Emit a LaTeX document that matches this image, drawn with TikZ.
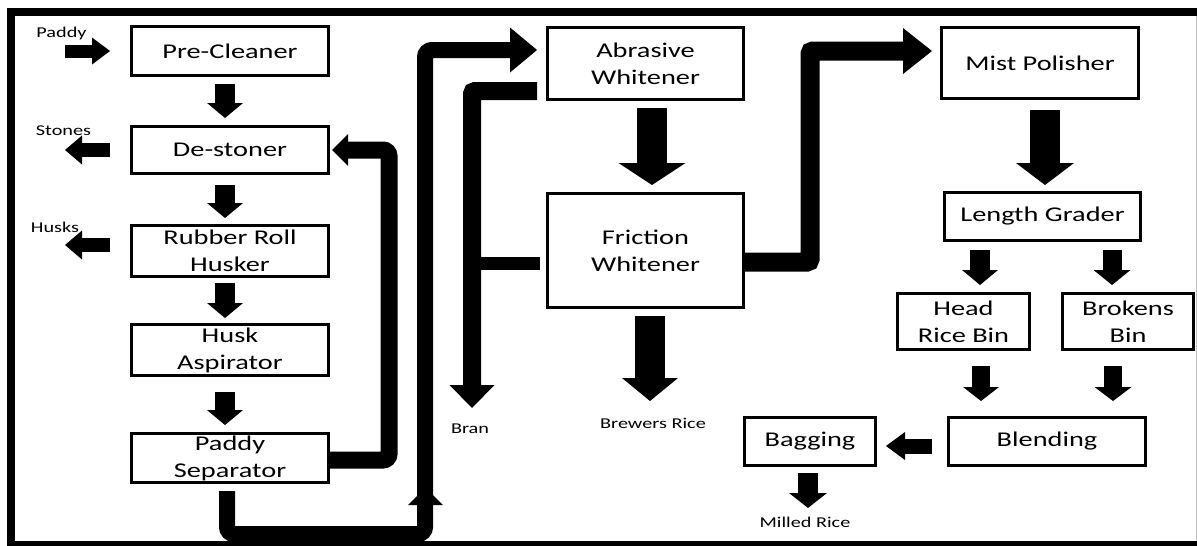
\documentclass[tikz,border=0pt]{standalone}
\usepackage{fontspec}
\usetikzlibrary{arrows.meta}
\newfontfamily\stretchsans[FakeStretch=1.35]{Carlito}
\newcommand{\boxfont}{\stretchsans\fontsize{21}{27}\selectfont}
\newcommand{\tagfont}{\stretchsans\fontsize{15}{18}\selectfont}

\tikzset{
  unit/.style n args={2}{draw, line width=3pt, inner sep=0pt, align=center,
    font=\boxfont, minimum width=#1-3pt, minimum height=#2-3pt},
  flow/.style n args={3}{line width=#1, line cap=butt,
    -{Triangle[length=#3, width=#2, line width=0pt]}},
  pipe/.style={line width=#1, line cap=butt},
  tag/.style={font=\tagfont, inner sep=0pt, anchor=base},
}

\begin{document}
\begin{tikzpicture}[x=1pt, y=-1pt]
\useasboundingbox (0,0) rectangle (1197,546);

% frame
\draw[line width=8pt, line cap=butt] (11,550) -- (11,12) -- (1200,12);
\draw[line width=7pt, line cap=butt] (7,544.5) -- (1200,544.5);
\draw[black!25, line width=1pt] (1196.5,16) -- (1196.5,541);

% process units
\node[unit={200pt}{52pt}] (pre)       at (230,51)    {Pre-Cleaner};
\node[unit={200pt}{50pt}] (destoner)  at (230,150)   {De-stoner};
\node[unit={200pt}{54pt}] (husker)    at (230,251)   {Rubber Roll\\Husker};
\node[unit={200pt}{54pt}] (aspirator) at (230,350)   {Husk\\Aspirator};
\node[unit={200pt}{52pt}] (separator) at (230,458)   {Paddy\\Separator};
\node[unit={199pt}{75pt}] (abrasive)  at (645.5,63.5)  {Abrasive\\Whitener};
\node[unit={199pt}{117pt}] (friction) at (645.5,250.5) {Friction\\Whitener};
\node[unit={200pt}{74pt}] (mist)      at (1040,63)   {Mist Polisher};
\node[unit={199pt}{51pt}] (grader)    at (1042.5,216.5) {Length Grader};
\node[unit={135pt}{59pt}] (headbin)   at (963.5,321.5) {Head\\Rice Bin};
\node[unit={134pt}{59pt}] (brokens)   at (1128,321.5) {Brokens\\Bin};
\node[unit={200pt}{51pt}] (blending)  at (1047,441.5) {Blending};
\node[unit={134pt}{51pt}] (bagging)   at (810,441.5)  {Bagging};

% stream labels
\node[tag] (lpaddy)   at (61.5,37)  {Paddy};
\node[tag] (lstones)  at (63.5,135) {Stones};
\node[tag] (lhusks)   at (55,232)   {Husks};
\node[tag] (lbran)    at (470,433)  {Bran};
\node[tag] (lbrewers) at (653,428)  {Brewers Rice};
\node[tag] (lmilled)  at (805,527)  {Milled Rice};

% free ends of inlet and outlet streams
\coordinate (paddysrc)  at (65,51);
\coordinate (stonesout) at (65,150);
\coordinate (husksout)  at (65,245);
\coordinate (bransink)  at (472,408);
\coordinate (brewsink)  at (650,401);
\coordinate (milledout) at (808,508);
\coordinate (retx)      at (389,0);
\coordinate (risex)     at (425,0);
\coordinate (lowy)      at (0,534);
\coordinate (upx)       at (810,0);

% husking line
\draw[flow={13pt}{27pt}{18pt}, shorten >=20pt] (paddysrc) -- (pre.west);
\draw[flow={20pt}{36pt}{15pt}, shorten <=7pt, shorten >=7pt]
  ([xshift=-5pt]pre.south) -- ([xshift=-5pt]pre.south |- destoner.north);
\draw[flow={20pt}{36pt}{15pt}, shorten <=10pt, shorten >=6pt]
  ([xshift=-5pt]destoner.south) -- ([xshift=-5pt]destoner.south |- husker.north);
\draw[flow={20pt}{36pt}{15pt}, shorten <=5pt, shorten >=5pt]
  ([xshift=-5pt]husker.south) -- ([xshift=-5pt]husker.south |- aspirator.north);
\draw[flow={20pt}{36pt}{15pt}, shorten <=15pt, shorten >=7pt]
  ([xshift=-5pt]aspirator.south) -- ([xshift=-5pt]aspirator.south |- separator.north);

% rejects
\draw[flow={14pt}{29pt}{17pt}, shorten <=20pt]
  (destoner.west) -- (stonesout |- destoner.west);
\draw[flow={14pt}{29pt}{17pt}, shorten <=20pt]
  (husker.west |- husksout) -- (husksout);

% unhusked paddy returned to the de-stoner
\draw[flow={17pt}{32pt}{16pt}, rounded corners=6pt, shorten >=2pt]
  ([yshift=-2pt]separator.east) -- ([yshift=-2pt]separator.east -| retx)
  -- (retx |- destoner.east) -- (destoner.east);

% brown rice to the abrasive whitener
\coordinate (abrin) at ([yshift=13.5pt]abrasive.west);
\draw[flow={16pt}{45pt}{27pt}, rounded corners=7pt, shorten <=7pt, shorten >=9pt]
  ([xshift=-3pt]separator.south) -- ([xshift=-3pt]separator.south |- lowy)
  -- (risex |- lowy) -- (risex |- abrin) -- (abrin);
\fill (408,505) -- (425.5,487.5) -- (443,505) -- cycle;

% bran from both whiteners
\coordinate (abrout) at ([yshift=-27.5pt]abrasive.west);
\draw[flow={18pt}{45pt}{23pt}, rounded corners=3pt, shorten <=9pt]
  (abrout) -- (bransink |- abrout) -- (bransink);
\draw[pipe=13pt, shorten <=6pt]
  ([yshift=-12.5pt]friction.west) -- ([yshift=-12.5pt]friction.west -| bransink);

% whitening and polishing
\draw[flow={30pt}{67pt}{22pt}, shorten <=7pt, shorten >=7pt]
  ([xshift=6.5pt]abrasive.south) -- ([xshift=6.5pt]abrasive.south |- friction.north);
\draw[flow={30pt}{56pt}{23pt}, shorten <=7pt]
  (friction.south -| brewsink) -- (brewsink);
\coordinate (mistin) at ([yshift=12pt]mist.west);
\draw[flow={19pt}{46pt}{29pt}, rounded corners=3pt, shorten >=8pt]
  ([yshift=-11.5pt]friction.east) -- ([yshift=-11.5pt]friction.east -| upx)
  -- (upx |- mistin) -- (mistin);
\draw[flow={30pt}{58pt}{22pt}, shorten <=10pt, shorten >=6pt]
  ([xshift=5pt]mist.south) -- ([xshift=5pt]mist.south |- grader.north);

% grading, blending and bagging
\draw[flow={20pt}{36pt}{15pt}, shorten <=8pt, shorten >=7pt]
  ([xshift=-62.5pt]grader.south) -- ([xshift=-62.5pt]grader.south |- headbin.north);
\draw[flow={19pt}{37pt}{15pt}, shorten <=8pt, shorten >=7pt]
  ([xshift=69.5pt]grader.south) -- ([xshift=69.5pt]grader.south |- brokens.north);
\draw[flow={18pt}{36pt}{14pt}, shorten <=15pt, shorten >=15pt]
  ([xshift=17.5pt]headbin.south) -- ([xshift=17.5pt]headbin.south |- blending.north);
\draw[flow={18pt}{37pt}{14pt}, shorten <=15pt, shorten >=15pt]
  ([xshift=-15pt]brokens.south) -- ([xshift=-15pt]brokens.south |- blending.north);
\draw[flow={15pt}{28pt}{19pt}, shorten <=15pt, shorten >=9pt]
  ([yshift=-4.5pt]blending.west) -- ([yshift=-4.5pt]blending.west -| bagging.east);
\draw[flow={20pt}{38pt}{15pt}, shorten <=6pt]
  (bagging.south -| milledout) -- (milledout);

\end{tikzpicture}
\end{document}
